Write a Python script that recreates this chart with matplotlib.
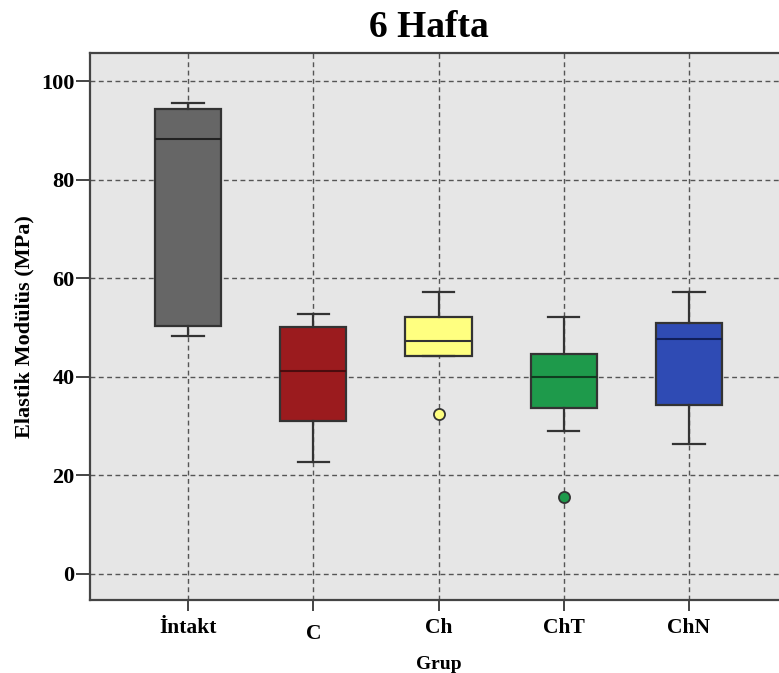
import matplotlib
matplotlib.use("Agg")
import matplotlib.pyplot as plt
import matplotlib.transforms as mtransforms

# Groups and their box-plot summaries (Elastik Modülüs, MPa)
groups = ["İntakt", "C", "Ch", "ChT", "ChN"]
whisker_low = [48.2, 22.7, 44.3, 28.9, 26.4]
q1 = [50.4, 31.1, 44.3, 33.6, 34.3]
median = [88.2, 41.2, 47.2, 40.0, 47.7]
q3 = [94.3, 50.0, 52.1, 44.6, 51.0]
whisker_high = [95.6, 52.8, 57.1, 52.1, 57.1]
outliers = [[], [], [32.4], [15.5], []]

fill_colors = ["#666666", "#9b1b1e", "#ffff80", "#1e9a4b", "#2f4bb4"]
median_colors = ["#222222", "#4a0c0e", "#333333", "#0f3d1f", "#101e5a"]
edge_color = "#333333"

serif = ["Liberation Serif", "DejaVu Serif"]

fig = plt.figure(figsize=(7.79, 6.73), dpi=100)
ax = fig.add_axes([90 / 779, 73 / 673, 697 / 779, 547 / 673])
ax.set_facecolor("#e6e6e6")

stats = []
for i, g in enumerate(groups):
    stats.append({
        "label": g,
        "whislo": whisker_low[i],
        "q1": q1[i],
        "med": median[i],
        "q3": q3[i],
        "whishi": whisker_high[i],
        "fliers": outliers[i],
    })

positions = list(range(1, len(groups) + 1))
bp = ax.bxp(stats, positions=positions, widths=0.53, capwidths=0.25,
            patch_artist=True, showfliers=True, zorder=3,
            boxprops=dict(edgecolor=edge_color, linewidth=1.6),
            whiskerprops=dict(color=edge_color, linewidth=1.6),
            capprops=dict(color=edge_color, linewidth=1.6),
            medianprops=dict(linewidth=1.5))

for i in range(len(groups)):
    bp["boxes"][i].set_facecolor(fill_colors[i])
    bp["medians"][i].set_color(median_colors[i])
    fl = bp["fliers"][i]
    fl.set_marker("o")
    fl.set_markersize(8)
    fl.set_markerfacecolor(fill_colors[i])
    fl.set_markeredgecolor(edge_color)
    fl.set_markeredgewidth(1.3)
    fl.set_zorder(4)

ax.set_xlim(0.216, 5.784)
ax.set_ylim(-5.3, 105.7)
ax.set_yticks([0, 20, 40, 60, 80, 100])
ax.set_xticks(positions)
ax.set_xticklabels(groups)

ax.grid(True, which="major", axis="both", color="#555555",
        linestyle=(0, (3.5, 2.5)), linewidth=1.0, zorder=1)
ax.set_axisbelow(True)

for side in ["left", "top", "bottom"]:
    ax.spines[side].set_color("#444444")
    ax.spines[side].set_linewidth(1.6)
ax.spines["right"].set_visible(False)

ax.tick_params(axis="y", direction="out", length=10, width=1.4,
               color="#444444", pad=1)
ax.tick_params(axis="x", direction="out", length=8, width=1.4,
               color="#444444", pad=5)

for lab in ax.get_yticklabels():
    lab.set_fontfamily(serif)
    lab.set_fontweight("bold")
    lab.set_fontsize(16)
for lab in ax.get_xticklabels():
    lab.set_fontfamily(serif)
    lab.set_fontweight("bold")
    lab.set_fontsize(15.5)

# "C" sits a little lower than the other group labels
c_label = ax.get_xticklabels()[1]
c_label.set_transform(c_label.get_transform() +
                      mtransforms.ScaledTranslation(0, -4 / 72, fig.dpi_scale_trans))

ax.set_ylabel("Elastik Modülüs (MPa)", fontfamily=serif, fontweight="bold",
              fontsize=16, labelpad=5)
ax.set_xlabel("Grup", fontfamily=serif, fontweight="bold",
              fontsize=14, labelpad=9)

fig.text(429 / 779, 1 - 37 / 673, "6 Hafta", ha="center", va="baseline",
         fontfamily=serif, fontweight="bold", fontsize=27)

fig.savefig("out.png", dpi=100, facecolor="white")
